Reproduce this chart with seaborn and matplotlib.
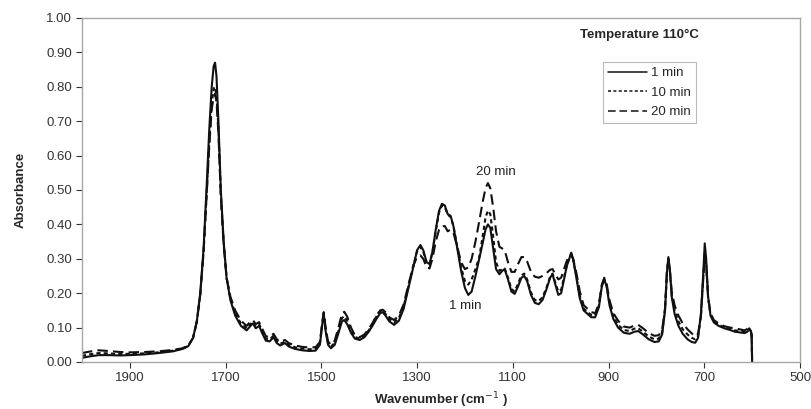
import numpy as np
import pandas as pd
import matplotlib
matplotlib.use("Agg")
import matplotlib.pyplot as plt
import seaborn as sns

# Wavenumber (cm-1) and absorbance
wavenumber = [2000, 1985, 1965, 1945, 1920, 1900, 1870, 1840, 1810, 1790, 1778, 1768, 1760, 1753, 1746,
              1740, 1734, 1729, 1725, 1722, 1719, 1715, 1710, 1704, 1698, 1690, 1680, 1668, 1656, 1648,
              1643, 1637, 1630, 1624, 1616, 1608, 1600, 1593, 1586, 1576, 1568, 1555, 1540, 1525, 1512,
              1503, 1498, 1495, 1491, 1486, 1480, 1472, 1464, 1457, 1452, 1446, 1438, 1430, 1420, 1410,
              1400, 1392, 1385, 1377, 1372, 1366, 1358, 1348, 1338, 1328, 1318, 1308, 1300, 1293, 1287,
              1280, 1274, 1268, 1261, 1254, 1248, 1242, 1236, 1230, 1224, 1216, 1208, 1200, 1193, 1186,
              1178, 1170, 1163, 1157, 1152, 1147, 1141, 1135, 1128, 1122, 1117, 1110, 1103, 1096, 1089,
              1082, 1076, 1070, 1062, 1054, 1046, 1038, 1030, 1022, 1017, 1011, 1005, 999, 993, 987,
              982, 978, 974, 968, 960, 952, 944, 936, 928, 920, 914, 909, 904, 898, 890,
              880, 868, 856, 846, 838, 828, 816, 804, 795, 788, 782, 778, 775, 772, 768,
              762, 754, 745, 735, 726, 719, 713, 707, 702, 699, 696, 692, 687, 680, 670,
              658, 646, 636, 626, 616, 610, 606, 603, 601, 600]

abs_1min = [0.012, 0.016, 0.020, 0.020, 0.019, 0.020, 0.022, 0.026, 0.031, 0.038, 0.046, 0.070, 0.120, 0.200, 0.330,
            0.500, 0.680, 0.800, 0.860, 0.870, 0.830, 0.700, 0.500, 0.350, 0.245, 0.180, 0.135, 0.105, 0.092, 0.105,
            0.112, 0.098, 0.105, 0.085, 0.062, 0.060, 0.072, 0.055, 0.048, 0.055, 0.045, 0.038, 0.034, 0.032, 0.033,
            0.050, 0.110, 0.140, 0.090, 0.050, 0.040, 0.050, 0.085, 0.118, 0.122, 0.110, 0.085, 0.068, 0.064, 0.072,
            0.090, 0.108, 0.125, 0.142, 0.145, 0.135, 0.118, 0.108, 0.120, 0.155, 0.215, 0.275, 0.325, 0.340, 0.325,
            0.290, 0.285, 0.320, 0.385, 0.440, 0.460, 0.455, 0.430, 0.425, 0.395, 0.330, 0.265, 0.215, 0.195, 0.205,
            0.250, 0.300, 0.345, 0.385, 0.400, 0.390, 0.330, 0.270, 0.255, 0.265, 0.270, 0.240, 0.205, 0.198, 0.220,
            0.245, 0.250, 0.235, 0.195, 0.172, 0.168, 0.180, 0.210, 0.245, 0.255, 0.225, 0.195, 0.200, 0.240, 0.280,
            0.300, 0.318, 0.300, 0.250, 0.185, 0.150, 0.140, 0.130, 0.130, 0.160, 0.220, 0.240, 0.220, 0.165, 0.125,
            0.100, 0.085, 0.082, 0.088, 0.090, 0.080, 0.066, 0.058, 0.060, 0.080, 0.150, 0.260, 0.305, 0.270, 0.190,
            0.140, 0.105, 0.082, 0.066, 0.058, 0.056, 0.070, 0.140, 0.260, 0.345, 0.300, 0.190, 0.135, 0.115, 0.105,
            0.098, 0.093, 0.088, 0.086, 0.084, 0.088, 0.095, 0.090, 0.075, 0.0]

abs_10min = [0.018, 0.022, 0.026, 0.025, 0.023, 0.024, 0.025, 0.028, 0.033, 0.039, 0.047, 0.070, 0.118, 0.195, 0.320,
             0.480, 0.640, 0.750, 0.795, 0.800, 0.775, 0.680, 0.490, 0.345, 0.245, 0.185, 0.142, 0.112, 0.098, 0.110,
             0.117, 0.104, 0.110, 0.092, 0.068, 0.066, 0.076, 0.060, 0.053, 0.059, 0.050, 0.043, 0.039, 0.037, 0.038,
             0.054, 0.112, 0.142, 0.095, 0.055, 0.045, 0.055, 0.092, 0.128, 0.133, 0.120, 0.092, 0.073, 0.068, 0.076,
             0.094, 0.112, 0.132, 0.148, 0.150, 0.140, 0.125, 0.115, 0.128, 0.162, 0.220, 0.278, 0.322, 0.335, 0.320,
             0.288, 0.283, 0.318, 0.380, 0.435, 0.455, 0.450, 0.428, 0.422, 0.395, 0.335, 0.275, 0.235, 0.225, 0.240,
             0.270, 0.305, 0.365, 0.420, 0.440, 0.430, 0.365, 0.290, 0.265, 0.270, 0.272, 0.245, 0.212, 0.205, 0.228,
             0.252, 0.257, 0.240, 0.202, 0.180, 0.177, 0.188, 0.215, 0.248, 0.257, 0.230, 0.205, 0.210, 0.245, 0.282,
             0.302, 0.315, 0.298, 0.255, 0.192, 0.155, 0.145, 0.137, 0.136, 0.165, 0.222, 0.242, 0.222, 0.170, 0.132,
             0.108, 0.093, 0.090, 0.097, 0.098, 0.088, 0.074, 0.066, 0.068, 0.086, 0.152, 0.260, 0.300, 0.268, 0.195,
             0.150, 0.118, 0.095, 0.080, 0.070, 0.066, 0.076, 0.135, 0.250, 0.315, 0.285, 0.188, 0.138, 0.118, 0.108,
             0.101, 0.096, 0.092, 0.090, 0.088, 0.092, 0.098, 0.092, 0.078, 0.0]

abs_20min = [0.026, 0.030, 0.034, 0.032, 0.029, 0.028, 0.029, 0.031, 0.035, 0.040, 0.048, 0.070, 0.118, 0.195, 0.320,
             0.475, 0.630, 0.735, 0.770, 0.780, 0.755, 0.665, 0.480, 0.340, 0.245, 0.190, 0.150, 0.120, 0.105, 0.118,
             0.122, 0.110, 0.116, 0.098, 0.075, 0.072, 0.082, 0.066, 0.058, 0.064, 0.055, 0.048, 0.044, 0.042, 0.043,
             0.058, 0.115, 0.145, 0.100, 0.060, 0.050, 0.062, 0.102, 0.140, 0.146, 0.132, 0.100, 0.078, 0.072, 0.080,
             0.098, 0.116, 0.135, 0.150, 0.152, 0.145, 0.130, 0.122, 0.135, 0.168, 0.225, 0.280, 0.305, 0.310, 0.300,
             0.275, 0.272, 0.300, 0.350, 0.385, 0.395, 0.395, 0.380, 0.385, 0.375, 0.335, 0.290, 0.270, 0.275, 0.300,
             0.350, 0.410, 0.465, 0.505, 0.520, 0.505, 0.450, 0.380, 0.335, 0.330, 0.325, 0.290, 0.262, 0.262, 0.285,
             0.305, 0.305, 0.292, 0.262, 0.248, 0.245, 0.250, 0.258, 0.268, 0.270, 0.255, 0.240, 0.245, 0.270, 0.295,
             0.308, 0.310, 0.300, 0.265, 0.205, 0.165, 0.155, 0.145, 0.142, 0.170, 0.225, 0.245, 0.228, 0.180, 0.142,
             0.120, 0.103, 0.100, 0.106, 0.108, 0.098, 0.084, 0.076, 0.078, 0.094, 0.155, 0.262, 0.298, 0.270, 0.205,
             0.165, 0.135, 0.112, 0.095, 0.083, 0.075, 0.082, 0.132, 0.245, 0.310, 0.280, 0.190, 0.142, 0.122, 0.112,
             0.104, 0.100, 0.098, 0.095, 0.092, 0.096, 0.100, 0.094, 0.080, 0.0]

series_labels = ["1 min", "10 min", "20 min"]
x_ticks = [1900, 1700, 1500, 1300, 1100, 900, 700, 500]
y_ticks = [0.0, 0.1, 0.2, 0.3, 0.4, 0.5, 0.6, 0.7, 0.8, 0.9, 1.0]

sns.set_theme(style="white")
plt.rcParams['font.family'] = ['Liberation Sans', 'DejaVu Sans']

fig = plt.figure(figsize=(8.11, 4.09), dpi=100)
ax = fig.add_axes([82 / 811, 47 / 409, 718 / 811, 344 / 409])

styles = ["-", (0, (2, 1.5)), (0, (5, 2.5))]
for vals, lab, ls in zip([abs_1min, abs_10min, abs_20min], series_labels, styles):
    df = pd.DataFrame({"wn": wavenumber, "A": vals})
    sns.lineplot(data=df, x="wn", y="A", ax=ax, color="#111111", linestyle=ls,
                 linewidth=1.5, sort=False, label=lab)

ax.set_xlim(2000, 500)
ax.set_ylim(0, 1.0)
ax.set_xticks(x_ticks)
ax.set_xticklabels([str(t) for t in x_ticks])
ax.set_yticks(y_ticks)
ax.set_yticklabels([f"{t:.2f}" for t in y_ticks])
ax.tick_params(axis="both", labelsize=9.5, colors="#333333", length=4, width=0.8,
               direction="out", bottom=True, left=True, pad=3)
for sp in ax.spines.values():
    sp.set_color("#a8a8a8")
    sp.set_linewidth(1.0)

ax.set_xlabel("Wavenumber (cm$^{-1}$ )", fontsize=9.5, fontweight="bold", labelpad=5)
ax.set_ylabel("Absorbance", fontsize=9.5, fontweight="bold", labelpad=14)

ax.text(0.777, 0.951, "Temperature 110°C", transform=ax.transAxes, fontsize=9.5,
        fontweight="bold", ha="center", va="center")
ax.text(1135, 0.553, "20 min", fontsize=9.5, ha="center", va="center", color="#222222")
ax.text(1200, 0.164, "1 min", fontsize=9.5, ha="center", va="center", color="#222222")

leg = ax.legend(loc="upper left", bbox_to_anchor=(0.725, 0.873), borderaxespad=0,
                fontsize=9.5, frameon=True, fancybox=False, handlelength=3.0,
                handletextpad=0.25, borderpad=0.4, labelspacing=0.55)
leg.get_frame().set_edgecolor("#a8a8a8")
leg.get_frame().set_linewidth(0.8)
for h in leg.get_lines():
    h.set_linewidth(1.1)

fig.savefig("out.png", dpi=100)
